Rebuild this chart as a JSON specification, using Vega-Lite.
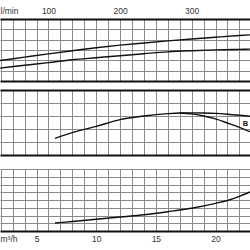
{
  "$schema": "https://vega.github.io/schema/vega-lite/v6.json",
  "padding": 0,
  "background": "white",
  "config": {
    "view": {"stroke": null},
    "axis": {"labelFont": "Liberation Sans", "titleFont": "Liberation Sans", "labelColor": "#333", "titleColor": "#333", "gridColor": "#8a8a8a", "gridWidth": 1, "gridOpacity": 1}
  },
  "datasets": {
    "p1": [
      {"q": 1.94, "v": 1.98, "s": "upper"}, {"q": 4, "v": 2.31, "s": "upper"}, {"q": 6, "v": 2.63, "s": "upper"}, {"q": 8, "v": 2.93, "s": "upper"}, {"q": 10, "v": 3.22, "s": "upper"}, {"q": 12, "v": 3.47, "s": "upper"}, {"q": 14, "v": 3.68, "s": "upper"}, {"q": 16, "v": 3.88, "s": "upper"}, {"q": 18, "v": 4.07, "s": "upper"}, {"q": 20, "v": 4.24, "s": "upper"}, {"q": 22, "v": 4.4, "s": "upper"}, {"q": 22.89, "v": 4.46, "s": "upper"},
      {"q": 1.94, "v": 1.25, "s": "lower"}, {"q": 4, "v": 1.52, "s": "lower"}, {"q": 6, "v": 1.78, "s": "lower"}, {"q": 8, "v": 2.05, "s": "lower"}, {"q": 10, "v": 2.25, "s": "lower"}, {"q": 12, "v": 2.45, "s": "lower"}, {"q": 14, "v": 2.64, "s": "lower"}, {"q": 16, "v": 2.82, "s": "lower"}, {"q": 18, "v": 2.93, "s": "lower"}, {"q": 20, "v": 3.01, "s": "lower"}, {"q": 22, "v": 3.06, "s": "lower"}, {"q": 22.89, "v": 3.08, "s": "lower"}
    ],
    "p2": [
      {"q": 6.55, "v": 1.28, "s": "A"}, {"q": 8, "v": 1.72, "s": "A"}, {"q": 10, "v": 2.2, "s": "A"}, {"q": 12, "v": 2.72, "s": "A"}, {"q": 14, "v": 3.0, "s": "A"}, {"q": 16, "v": 3.18, "s": "A"}, {"q": 17, "v": 3.23, "s": "A"}, {"q": 18, "v": 3.24, "s": "A"}, {"q": 19, "v": 3.23, "s": "A"}, {"q": 20, "v": 3.2, "s": "A"}, {"q": 21, "v": 3.14, "s": "A"}, {"q": 22, "v": 3.06, "s": "A"}, {"q": 22.89, "v": 2.98, "s": "A"},
      {"q": 17, "v": 3.23, "s": "B"}, {"q": 18, "v": 3.16, "s": "B"}, {"q": 19, "v": 3.0, "s": "B"}, {"q": 20, "v": 2.78, "s": "B"}, {"q": 21, "v": 2.46, "s": "B"}, {"q": 22, "v": 2.13, "s": "B"}, {"q": 22.89, "v": 1.79, "s": "B"}
    ],
    "p3": [
      {"q": 6.55, "v": 1.03}, {"q": 8, "v": 1.23}, {"q": 10, "v": 1.51}, {"q": 12, "v": 1.81}, {"q": 14, "v": 2.1}, {"q": 16, "v": 2.49}, {"q": 18, "v": 2.94}, {"q": 20, "v": 3.57}, {"q": 21, "v": 3.94}, {"q": 22, "v": 4.48}, {"q": 22.89, "v": 5.05}
    ],
    "blabel": [{"q": 22.5, "v": 2.4, "t": "B"}]
  },
  "vconcat": [
    {
      "spacing": 9,
      "vconcat": [
        {
          "width": 250,
          "height": 62,
          "data": {"name": "p1"},
          "mark": {"type": "line", "color": "#111", "strokeWidth": 1.4, "interpolate": "monotone", "clip": true},
          "encoding": {
            "x": {"field": "q", "type": "quantitative", "scale": {"domain": [1.936, 22.89], "nice": false, "zero": false},
              "axis": {"orient": "top", "values": [2,3,4,5,6,7,8,9,10,11,12,13,14,15,16,17,18,19,20,21,22], "grid": true, "ticks": false, "domain": false,
                "labelExpr": "datum.value % 6 == 0 ? format(datum.value*1000/60, 'd') : ''", "labelPadding": 4, "labelFontSize": 8.5, "labelOverlap": false, "labelFlush": false,
                "title": "l/min", "titleX": 0, "titleY": -4, "titleAlign": "left", "titleBaseline": "bottom", "titleFontWeight": "normal", "titleFontSize": 8.5, "titleAngle": 0,
                "minExtent": 19, "maxExtent": 19}},
            "y": {"field": "v", "type": "quantitative", "scale": {"domain": [0, 6], "nice": false, "zero": false},
              "axis": {"values": [0,1,2,3,4,5,6], "grid": true, "labels": false, "ticks": false, "domain": false, "title": null,
                "gridWidth": {"condition": {"test": "datum.value == 0 || datum.value == 6", "value": 2}, "value": 1},
                "gridColor": {"condition": {"test": "datum.value == 0 || datum.value == 6", "value": "#111"}, "value": "#8a8a8a"}}},
            "detail": {"field": "s"}
          }
        },
        {
          "width": 250,
          "height": 65,
          "encoding": {
            "x": {"field": "q", "type": "quantitative", "scale": {"domain": [1.936, 22.89], "nice": false, "zero": false},
              "axis": {"values": [2,3,4,5,6,7,8,9,10,11,12,13,14,15,16,17,18,19,20,21,22], "grid": true, "ticks": false, "domain": false, "labels": false, "title": null}},
            "y": {"field": "v", "type": "quantitative", "scale": {"domain": [0, 5], "nice": false, "zero": false},
              "axis": {"values": [0,1,2,3,4,5], "grid": true, "labels": false, "ticks": false, "domain": false, "title": null,
                "gridWidth": {"condition": {"test": "datum.value == 0 || datum.value == 5", "value": 2}, "value": 1},
                "gridColor": {"condition": {"test": "datum.value == 0 || datum.value == 5", "value": "#111"}, "value": "#8a8a8a"}}}
          },
          "layer": [
            {
              "data": {"name": "p2"},
              "mark": {"type": "line", "color": "#111", "strokeWidth": 1.4, "interpolate": "monotone", "clip": true},
              "encoding": {"detail": {"field": "s"}}
            },
            {
              "data": {"name": "blabel"},
              "mark": {"type": "text", "color": "#111", "font": "Liberation Sans", "fontSize": 7.5, "fontWeight": "bold"},
              "encoding": {"text": {"field": "t"}}
            }
          ]
        }
      ]
    },
    {
      "width": 250,
      "height": 62,
      "data": {"name": "p3"},
      "mark": {"type": "line", "color": "#111", "strokeWidth": 1.4, "interpolate": "monotone", "clip": true},
      "encoding": {
        "x": {"field": "q", "type": "quantitative", "scale": {"domain": [1.936, 22.89], "nice": false, "zero": false},
          "axis": {"orient": "bottom", "values": [2,3,4,5,6,7,8,9,10,11,12,13,14,15,16,17,18,19,20,21,22], "grid": true, "ticks": false, "domain": false,
            "labelExpr": "datum.value % 5 == 0 ? format(datum.value, 'd') : ''", "labelPadding": 3, "labelFontSize": 8.5, "labelOverlap": false, "labelFlush": false,
            "title": "m³/h", "titleX": 0, "titleY": 3, "titleAlign": "left", "titleBaseline": "top", "titleFontWeight": "normal", "titleFontSize": 8.5, "titleAngle": 0,
            "maxExtent": 17}},
        "y": {"field": "v", "type": "quantitative", "scale": {"domain": [0, 8], "nice": false, "zero": false},
          "axis": {"values": [0,1,2,3,4,5,6,7,8], "grid": true, "labels": false, "ticks": false, "domain": false, "title": null,
            "gridWidth": {"condition": {"test": "datum.value == 0", "value": 2}, "value": 1},
            "gridColor": {"condition": {"test": "datum.value == 0", "value": "#111"}, "value": "#8a8a8a"}}}
      }
    }
  ],
  "spacing": 14
}
